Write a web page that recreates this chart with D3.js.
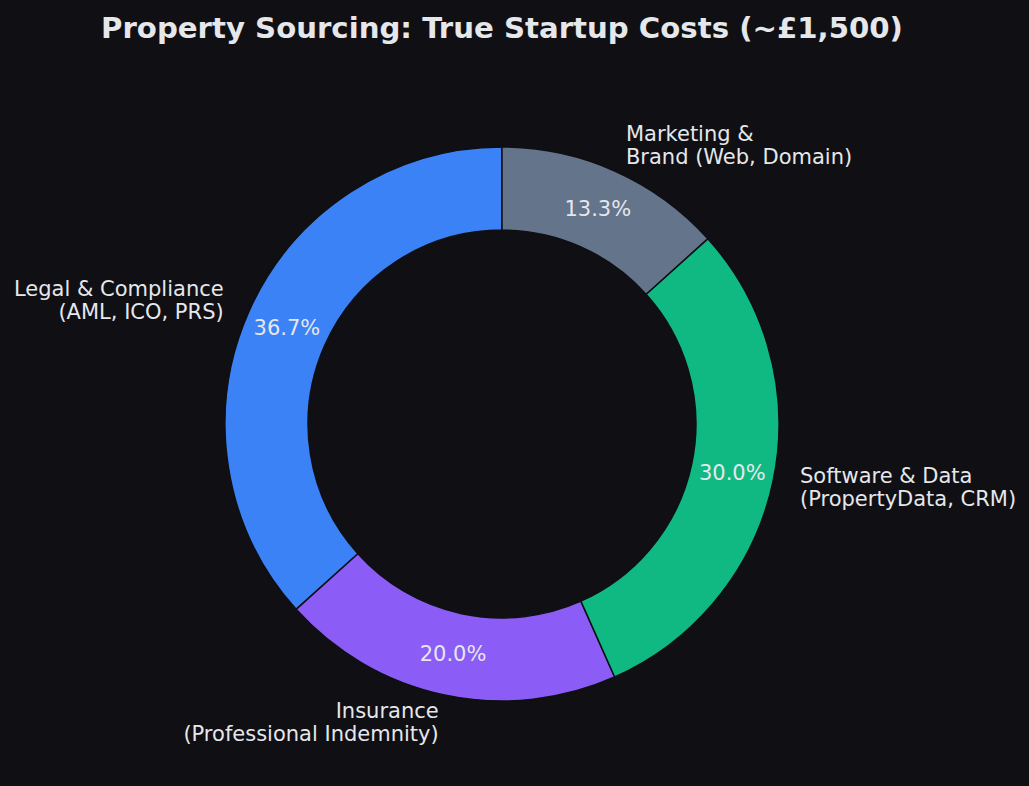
<!DOCTYPE html>
<html><head><meta charset="utf-8">
<script src="https://cdn.jsdelivr.net/npm/d3@7"></script>
<style>body{margin:0;background:#0f0f14;} svg{display:block;}</style>
</head><body>
<script>
const categories = ["Legal & Compliance\n(AML, ICO, PRS)", "Insurance\n(Professional Indemnity)", "Software & Data\n(PropertyData, CRM)", "Marketing &\nBrand (Web, Domain)"];
const values = [550, 300, 450, 200];
const colors = ["#3b82f6", "#8b5cf6", "#10b981", "#64748b"];
const title = "Property Sourcing: True Startup Costs (~£1,500)";

const W = 1029, H = 786;
const cx = 502, cy = 424, R = 277, r = R * 0.7;
const textColor = "#e5e7eb";
const svg = d3.select("body").append("svg").attr("width", W).attr("height", H);
svg.append("rect").attr("width", W).attr("height", H).attr("fill", "#0f0f14");

svg.append("text").attr("x", 502).attr("y", 28).attr("text-anchor", "middle").attr("dominant-baseline", "central")
  .attr("font-family", "DejaVu Sans").attr("font-weight", "bold").attr("font-size", 29.2).attr("fill", textColor).text(title);

const total = d3.sum(values);
const pie = d3.pie().sort(null).startAngle(0).endAngle(-2 * Math.PI);
const arcs = pie(values);
const arc = d3.arc().innerRadius(r).outerRadius(R);
const g = svg.append("g").attr("transform", `translate(${cx},${cy})`);
g.selectAll("path").data(arcs).join("path").attr("d", arc)
  .attr("fill", (d, i) => colors[i]).attr("stroke", "#0f0f14").attr("stroke-width", 1.5);

const pctArc = d3.arc().innerRadius(R * 0.85).outerRadius(R * 0.85);
g.selectAll("text.pct").data(arcs).join("text").attr("class", "pct")
  .attr("transform", d => `translate(${pctArc.centroid(d)})`)
  .attr("text-anchor", "middle").attr("dominant-baseline", "central")
  .attr("font-family", "DejaVu Sans").attr("font-size", 21).attr("fill", textColor)
  .text(d => (d.value / total * 100).toFixed(1) + "%");

const labArc = d3.arc().innerRadius(R * 1.1).outerRadius(R * 1.1);
const lineH = 23;
arcs.forEach((d, i) => {
  const [x, y] = labArc.centroid(d);
  const lines = categories[i].split("\n");
  const t = g.append("text").attr("font-family", "DejaVu Sans").attr("font-size", 21).attr("fill", textColor)
    .attr("text-anchor", x >= 0 ? "start" : "end").attr("dominant-baseline", "central");
  lines.forEach((ln, k) => {
    t.append("tspan").attr("x", x).attr("y", y + (k - (lines.length - 1) / 2) * lineH).text(ln);
  });
});
</script>
</body></html>
